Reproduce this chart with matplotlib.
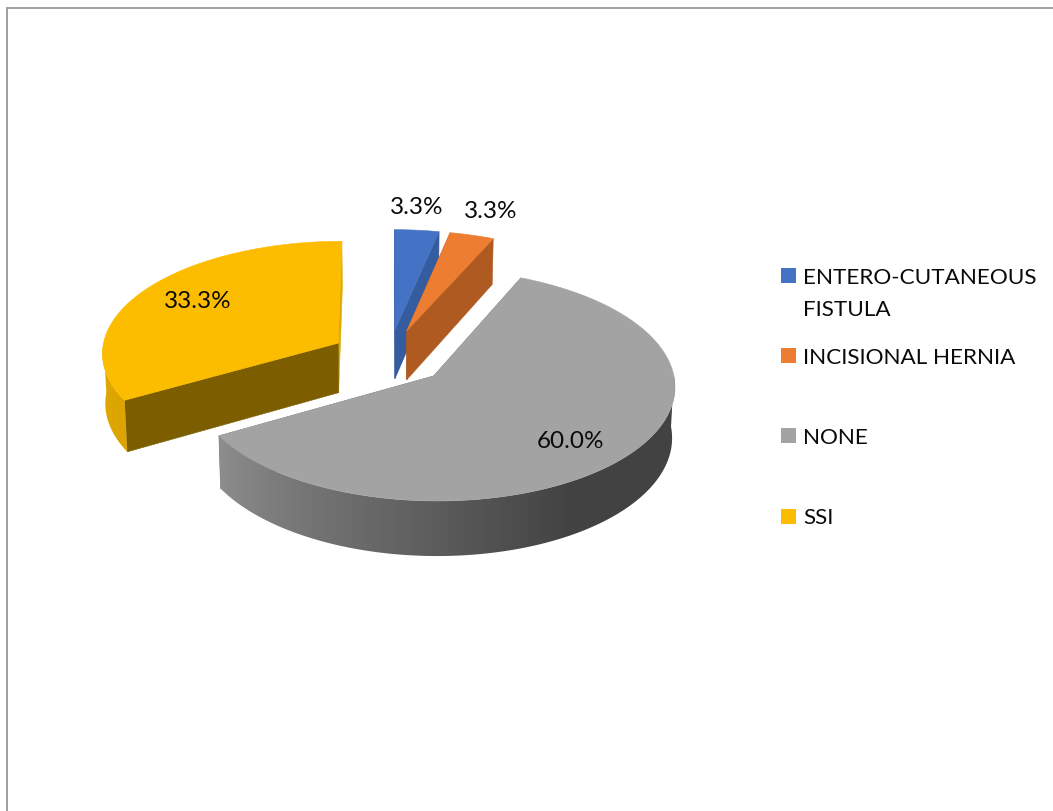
import matplotlib
matplotlib.use("Agg")
import matplotlib.pyplot as plt
from matplotlib.colors import to_rgb
from matplotlib.patches import Polygon, Rectangle
import numpy as np

labels = ["ENTERO-CUTANEOUS\nFISTULA", "INCISIONAL HERNIA", "NONE", "SSI"]
values = [3.3, 3.3, 60.0, 33.3]
colors = ["#4472c4", "#ed7d31", "#a3a3a3", "#fcbd00"]
start_wall_colors = ["#345c9e", "#ae5a21", "#7a7a7a", "#7c5d00"]
end_wall_colors = ["#345c9e", "#ae5a21", "#7a7a7a", "#dfa900"]
label_xy = [(417, 205), (491, 209), (570, 440), (198, 299)]
legend_y = [276, 356, 436, 517]

# pie geometry, in pixels of the 1053x811 canvas
CX, CY = 389, 357
RX, RY = 237, 112
PERSP = 0.079
EXPLODE = 0.25
DEPTH = 50
TAPER = 0.0002

plt.rcParams["font.family"] = ["Lato", "DejaVu Sans"]

fig = plt.figure(figsize=(10.53, 8.11), dpi=100)
ax = fig.add_axes([0, 0, 1, 1])


def project(x, y, drop=0.0):
    # perspective view of a point on the pie plane, back of the pie is smaller
    w = 1 + PERSP * y
    return np.column_stack([CX + RX * x / w * (1 - TAPER * drop), CY - RY * y / w + drop / w])


def rim_shade(theta):
    return np.interp(theta, [150, 240, 270], [0.41, 0.87, 0.90])


# outer frame
ax.plot([7, 7, 1053], [811, 7.5, 7.5], color="#999999", lw=1.3, solid_joinstyle="miter")

# slices run clockwise from 12 o'clock
fractions = np.array(values) / sum(values)
edges = np.concatenate([[0], np.cumsum(fractions) * 360])

for i in [3, 0, 1, 2]:
    start, end = edges[i], edges[i + 1]
    mid = np.radians((start + end) / 2)
    ox, oy = EXPLODE * np.sin(mid), EXPLODE * np.cos(mid)

    # cut faces of the slice
    for t, col in ((end, end_wall_colors[i]), (start, start_wall_colors[i])):
        a = np.radians(t)
        xs = np.array([ox, ox + np.sin(a)])
        ys = np.array([oy, oy + np.cos(a)])
        wall = np.vstack([project(xs, ys), project(xs, ys, DEPTH)[::-1]])
        ax.add_patch(Polygon(wall, closed=True, fc=col, ec=col, lw=0.4))

    # outer rim on the viewer's side, horizontal gradient clipped to the outline
    lo, hi = max(start, 90), min(end, 270)
    if lo < hi:
        rim_t = np.linspace(lo, hi, 200)
        rim_r = np.radians(rim_t)
        rx, ry = ox + np.sin(rim_r), oy + np.cos(rim_r)
        upper = project(rx, ry)
        lower = project(rx, ry, DEPTH)
        outline = Polygon(np.vstack([upper, lower[::-1]]), closed=True, transform=ax.transData,
                          fc="none", ec="none")
        ax.add_patch(outline)
        order = np.argsort(upper[:, 0])
        x0, x1 = upper[:, 0].min() - 6, upper[:, 0].max() + 6
        grid = np.arange(x0, x1, 1.0)
        shade = np.interp(grid, upper[order, 0], rim_shade(rim_t[order]))
        img = np.array(to_rgb(colors[i])) * shade[None, :, None]
        y0, y1 = upper[:, 1].min() - 5, lower[:, 1].max() + 5
        im = ax.imshow(img, extent=[x0, x1, y1, y0], aspect="auto", interpolation="bilinear", zorder=1)
        im.set_clip_path(outline)

    # top face
    arc = np.radians(np.linspace(start, end, 160))
    top = project(ox + np.sin(arc), oy + np.cos(arc))
    face = np.vstack([project(np.array([ox]), np.array([oy])), top])
    ax.add_patch(Polygon(face, closed=True, fc=colors[i], ec=colors[i], lw=0.4, zorder=1 + 0.1 * (i + 1)))

for xy, v in zip(label_xy, values):
    ax.text(xy[0], xy[1] + 2, f"{v:.1f}%", fontsize=17.5, color="#0a0a0a", ha="center", va="center", zorder=5)

# legend
for y, lab, col in zip(legend_y, labels, colors):
    ax.add_patch(Rectangle((781, y - 8), 15, 15, fc=col, ec="none"))
    first, *rest = lab.split("\n")
    ax.text(803, y + 1.5, first, fontsize=16.2, color="#0a0a0a", ha="left", va="center")
    if rest:
        ax.text(803, y + 33.5, rest[0], fontsize=16.2, color="#0a0a0a", ha="left", va="center")

ax.set_xlim(0, 1053)
ax.set_ylim(811, 0)
ax.axis("off")

fig.savefig("out.png", dpi=100)
